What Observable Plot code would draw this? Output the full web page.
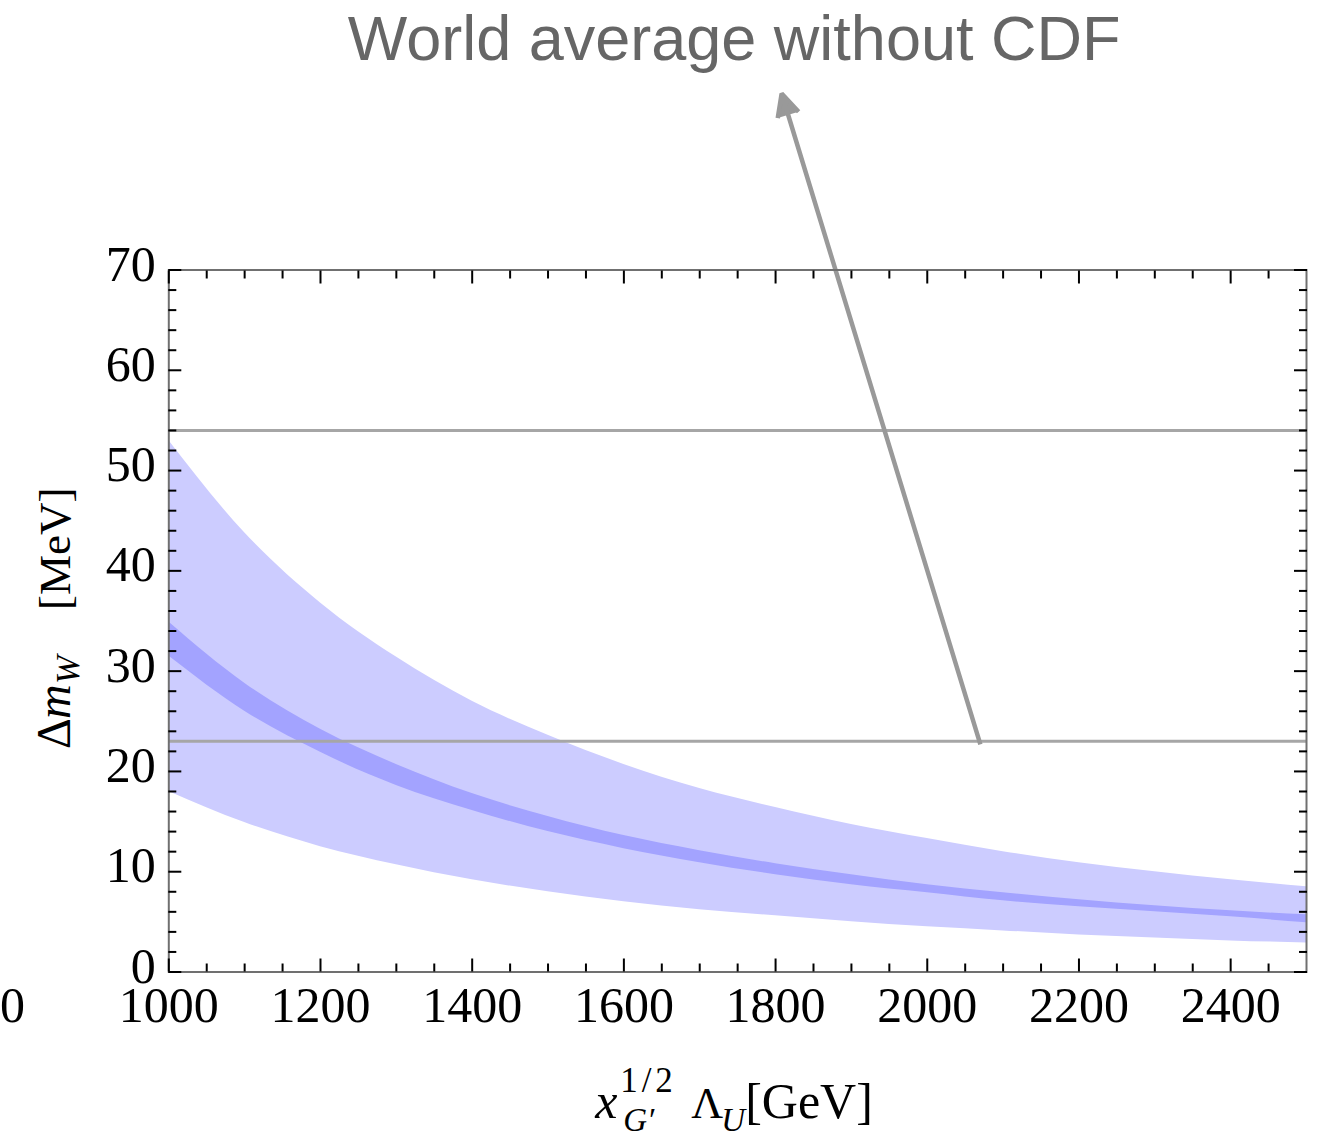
<!DOCTYPE html>
<html>
<head>
<meta charset="utf-8">
<script src="https://cdn.jsdelivr.net/npm/d3@7"></script>
<script src="https://cdn.jsdelivr.net/npm/@observablehq/plot@0.6"></script>
<style>
  body { margin: 0; background: #fff; }
  #chart svg { display: block; }
</style>
</head>
<body>
<div id="chart"></div>
<script>
// Scale x_G'^{1/2} Λ_U in GeV
const scaleGeV = [1000, 1100, 1200, 1300, 1400, 1500, 1600, 1700, 1800, 1900, 2000, 2100, 2200, 2300, 2400, 2500];

// Wide band (Δm_W, MeV)
const outerHi = [53.0, 43.8, 36.8, 31.4, 27.0, 23.6, 20.7, 18.3, 16.4, 14.7, 13.3, 12.0, 10.9, 10.0, 9.2, 8.5];
const outerLo = [18.0, 14.9, 12.5, 10.7, 9.2, 8.0, 7.0, 6.2, 5.6, 5.0, 4.5, 4.1, 3.7, 3.4, 3.1, 2.9];

// Narrow band (Δm_W, MeV)
const innerHi = [34.9, 28.8, 24.2, 20.7, 17.8, 15.5, 13.6, 12.1, 10.8, 9.7, 8.7, 7.9, 7.2, 6.6, 6.1, 5.7];
const innerLo = [31.5, 26.0, 21.9, 18.6, 16.1, 14.0, 12.3, 10.9, 9.7, 8.7, 7.9, 7.1, 6.5, 6.0, 5.5, 4.9];

// World average without CDF: allowed range of Δm_W (MeV)
const worldAvgBounds = [23, 54];

// Annotation arrow pointing from the range to the caption
const annotationArrow = [{x1: 2070, y1: 22.7, x2: 1808, y2: 87.6}];

// Tick values
const xMajor = [1000, 1200, 1400, 1600, 1800, 2000, 2200, 2400];
const xMinor = [1050, 1100, 1150, 1250, 1300, 1350, 1450, 1500, 1550, 1650, 1700, 1750,
                1850, 1900, 1950, 2050, 2100, 2150, 2250, 2300, 2350, 2450];
const yMajor = [0, 10, 20, 30, 40, 50, 60, 70];
const yMinor = [2, 4, 6, 8, 12, 14, 16, 18, 22, 24, 26, 28, 32, 34, 36, 38,
                42, 44, 46, 48, 52, 54, 56, 58, 62, 64, 66, 68];

const rows = scaleGeV.map((x, i) => ({
  x, outerHi: outerHi[i], outerLo: outerLo[i], innerHi: innerHi[i], innerLo: innerLo[i]
}));

const serif = "'Liberation Serif', 'Times New Roman', serif";
const W = 1320, H = 1138;
const mL = 168.3, mR = 14, mT = 269.5, mB = 166.5;

const tickStyle = {stroke: "#000", strokeWidth: 2, fill: "none"};
const innerTicks = ["bottom", "top"].flatMap(anchor => [
  Plot.axisX(xMajor, {anchor, tickSize: -13, ...tickStyle}),
  Plot.axisX(xMinor, {anchor, tickSize: -8, ...tickStyle})
]).concat(["left", "right"].flatMap(anchor => [
  Plot.axisY(yMajor, {anchor, tickSize: -13, ...tickStyle}),
  Plot.axisY(yMinor, {anchor, tickSize: -8, ...tickStyle})
]));

const chart = Plot.plot({
  width: W,
  height: H,
  marginLeft: mL,
  marginRight: mR,
  marginTop: mT,
  marginBottom: mB,
  style: {background: "#fff", fontFamily: serif, overflow: "visible"},
  x: {domain: [1000, 2500]},
  y: {domain: [0, 70]},
  marks: [
    Plot.areaY(rows, {x: "x", y1: "outerLo", y2: "outerHi", fill: "#ccccff", curve: "monotone-x"}),
    Plot.areaY(rows, {x: "x", y1: "innerLo", y2: "innerHi", fill: "#a3a3ff", curve: "monotone-x"}),
    Plot.ruleY(worldAvgBounds, {stroke: "#a6a6a6", strokeWidth: 3}),
    Plot.arrow(annotationArrow, {
      x1: "x1", y1: "y1", x2: "x2", y2: "y2",
      stroke: "#999", fill: "#999", strokeWidth: 4.5,
      headLength: 8.3, headAngle: 52, strokeLinecap: "butt"
    }),
    Plot.frame({stroke: "#707070", strokeWidth: 2}),
    ...innerTicks,
    Plot.axisX(xMajor, {
      anchor: "bottom", tickSize: 0, tickPadding: 14, fontSize: 50, fontFamily: serif,
      fill: "#000", label: null, tickFormat: d => String(d)
    }),
    Plot.axisY(yMajor, {
      anchor: "left", tickSize: 0, tickPadding: 13, dy: -5.5, fontSize: 50, fontFamily: serif,
      fill: "#000", label: null, tickFormat: d => String(d)
    })
  ]
});

document.getElementById("chart").appendChild(chart);

const svg = d3.select(chart);
const cx = mL + (W - mL - mR) / 2;

// Caption for the horizontal range
svg.append("text")
  .attr("x", cx - 3).attr("y", 60)
  .attr("text-anchor", "middle")
  .attr("font-family", "'Liberation Sans', Arial, Helvetica, sans-serif")
  .attr("font-size", 63)
  .attr("fill", "#666")
  .text("World average without CDF");

// Partial tick label at the far left edge
svg.append("text")
  .attr("x", 12.5).attr("y", 1022)
  .attr("text-anchor", "middle")
  .attr("font-family", serif).attr("font-size", 50).attr("fill", "#000")
  .text("0");

// x-axis title: x_{G'}^{1/2} Λ_U [GeV]
const xt = svg.append("g")
  .attr("font-family", serif).attr("fill", "#000").attr("text-anchor", "start");
const x0 = cx - 142;
xt.append("text").attr("x", x0).attr("y", 1118).attr("font-size", 50).attr("font-style", "italic").text("x");
xt.append("text").attr("x", x0 + 25).attr("y", 1092).attr("font-size", 35).attr("letter-spacing", 4).text("1/2");
xt.append("text").attr("x", x0 + 28).attr("y", 1131).attr("font-size", 33).attr("font-style", "italic").text("G\u2032");
xt.append("text").attr("x", x0 + 96).attr("y", 1118).attr("font-size", 44).text("\u039B");
xt.append("text").attr("x", x0 + 126).attr("y", 1131).attr("font-size", 33).attr("font-style", "italic").text("U");
xt.append("text").attr("x", x0 + 150).attr("y", 1118).attr("font-size", 50).text("[GeV]");

// y-axis title: Δm_W [MeV]
const yt = svg.append("g")
  .attr("transform", "translate(70,749) rotate(-90)")
  .attr("font-family", serif).attr("fill", "#000").attr("text-anchor", "start");
yt.append("text").attr("x", 0).attr("y", 0).attr("font-size", 48).text("\u0394");
yt.append("text").attr("x", 30).attr("y", 0).attr("font-size", 48).attr("font-style", "italic").text("m");
yt.append("text").attr("x", 65).attr("y", 9).attr("font-size", 34).attr("font-style", "italic").text("W");
yt.append("text").attr("x", 139).attr("y", 0).attr("font-size", 45).text("[MeV]");
</script>
</body>
</html>
